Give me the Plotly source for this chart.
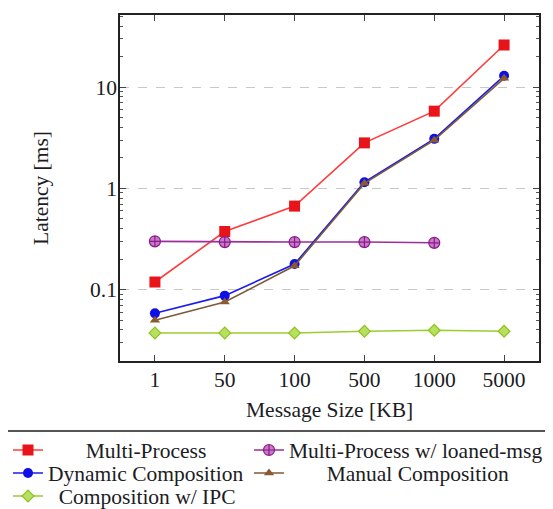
import plotly.graph_objects as go

sizes = ["1", "50", "100", "500", "1000", "5000"]
multi_process = [0.119, 0.375, 0.668, 2.81, 5.78, 26.0]
loaned_msg = [0.30, 0.295, 0.295, 0.295, 0.29]
dynamic_comp = [0.0584, 0.0873, 0.179, 1.15, 3.08, 12.9]
manual_comp = [0.050, 0.0756, 0.172, 1.12, 2.99, 12.2]
ipc_comp = [0.0374, 0.0374, 0.0374, 0.0389, 0.0398, 0.0389]

y_tickvals = [0.1, 1, 10]
y_ticktext = ["0.1", "1", "10"]
x_title = "Message Size [KB]"
y_title = "Latency [ms]"

FONT = "Liberation Serif"
FS = 21.5
TXT = "#1c1c24"
NB = "\u00a0"

fig = go.Figure()

fig.add_trace(go.Scatter(x=sizes, y=multi_process, name=NB * 7 + "Multi-Process",
                         mode="lines+markers", legend="legend",
                         line=dict(color="#ff3b3b", width=1.6),
                         marker=dict(symbol="square", size=11, color="#e8141a")))
fig.add_trace(go.Scatter(x=sizes[:5], y=loaned_msg, name="Multi-Process w/ loaned-msg",
                         mode="lines+markers", legend="legend2",
                         line=dict(color="#9b2f9b", width=1.6),
                         marker=dict(symbol="circle-cross", size=11, color="#c77ac7",
                                     line=dict(color="#8b1a8b", width=1.2))))
fig.add_trace(go.Scatter(x=sizes, y=dynamic_comp, name="Dynamic Composition",
                         mode="lines+markers", legend="legend3",
                         line=dict(color="#1a1af0", width=1.6),
                         marker=dict(symbol="circle", size=10, color="#1010e6")))
fig.add_trace(go.Scatter(x=sizes, y=manual_comp, name=NB * 7 + "Manual Composition",
                         mode="lines+markers", legend="legend4",
                         line=dict(color="#7d5a38", width=1.6),
                         marker=dict(symbol="triangle-up", size=9, color="#8a5a30")))
fig.add_trace(go.Scatter(x=sizes, y=ipc_comp, name=NB * 2 + "Composition w/ IPC",
                         mode="lines+markers", legend="legend5",
                         line=dict(color="#9acd32", width=1.6),
                         marker=dict(symbol="diamond", size=9, color="#b8e060",
                                     line=dict(color="#8cc21f", width=1.2))))

L, R, TOP, BOT = 112, 531, 7, 353
W = float(R - L)
H = float(BOT - TOP)


def leg(xpx, ypx):
    return dict(orientation="h", xref="container", yref="container",
                x=xpx / 553.0, xanchor="left",
                y=1 - ypx / 509.0, yanchor="middle",
                font=dict(family=FONT, size=FS, color=TXT),
                bgcolor="rgba(0,0,0,0)", itemwidth=30)


fig.update_layout(
    width=553, height=509,
    margin=dict(l=L, r=553 - R, t=TOP, b=509 - BOT, autoexpand=False),
    paper_bgcolor="white", plot_bgcolor="white",
    showlegend=True,
    font=dict(family=FONT, size=FS, color=TXT),
    legend=leg(0, 442),
    legend2=leg(241, 442),
    legend3=leg(0, 465),
    legend4=leg(241, 465),
    legend5=leg(0, 488),
    xaxis=dict(type="category", range=[-0.5, 5.5],
               showline=True, linecolor="#222", linewidth=1.5, mirror="allticks",
               ticks="inside", ticklen=6, tickcolor="#444", tickwidth=1,
               ticklabelstandoff=-2,
               showgrid=False, zeroline=False,
               tickfont=dict(family=FONT, size=FS, color=TXT)),
    yaxis=dict(type="log", range=[-1.704, 1.711],
               tickvals=y_tickvals, ticktext=y_ticktext,
               showline=True, linecolor="#222", linewidth=1.5, mirror="allticks",
               ticks="inside", ticklen=6, tickcolor="#444", tickwidth=1,
               ticklabelstandoff=-3,
               showgrid=True, gridcolor="#c8c8c8", griddash="dash", gridwidth=1,
               zeroline=False,
               minor=dict(tickvals=[m * 10 ** e for e in range(-2, 2) for m in range(2, 10)],
                          ticks="inside", ticklen=3, tickcolor="#555", showgrid=False),
               tickfont=dict(family=FONT, size=FS, color=TXT)),
    annotations=[
        dict(text=x_title, xref="paper", yref="paper", x=0.5, y=(BOT - 401.7) / H,
             xanchor="center", yanchor="middle", showarrow=False,
             font=dict(family=FONT, size=FS, color=TXT)),
        dict(text=y_title, xref="paper", yref="paper", x=(33 - L) / W, y=0.5,
             xanchor="center", yanchor="middle", showarrow=False, textangle=-90,
             font=dict(family=FONT, size=FS, color=TXT)),
    ],
    shapes=[dict(type="line", xref="paper", yref="paper",
                 x0=-1, x1=2, y0=(BOT - 423) / H, y1=(BOT - 423) / H,
                 line=dict(color="#555", width=2))],
)

fig.write_html("out.html")
